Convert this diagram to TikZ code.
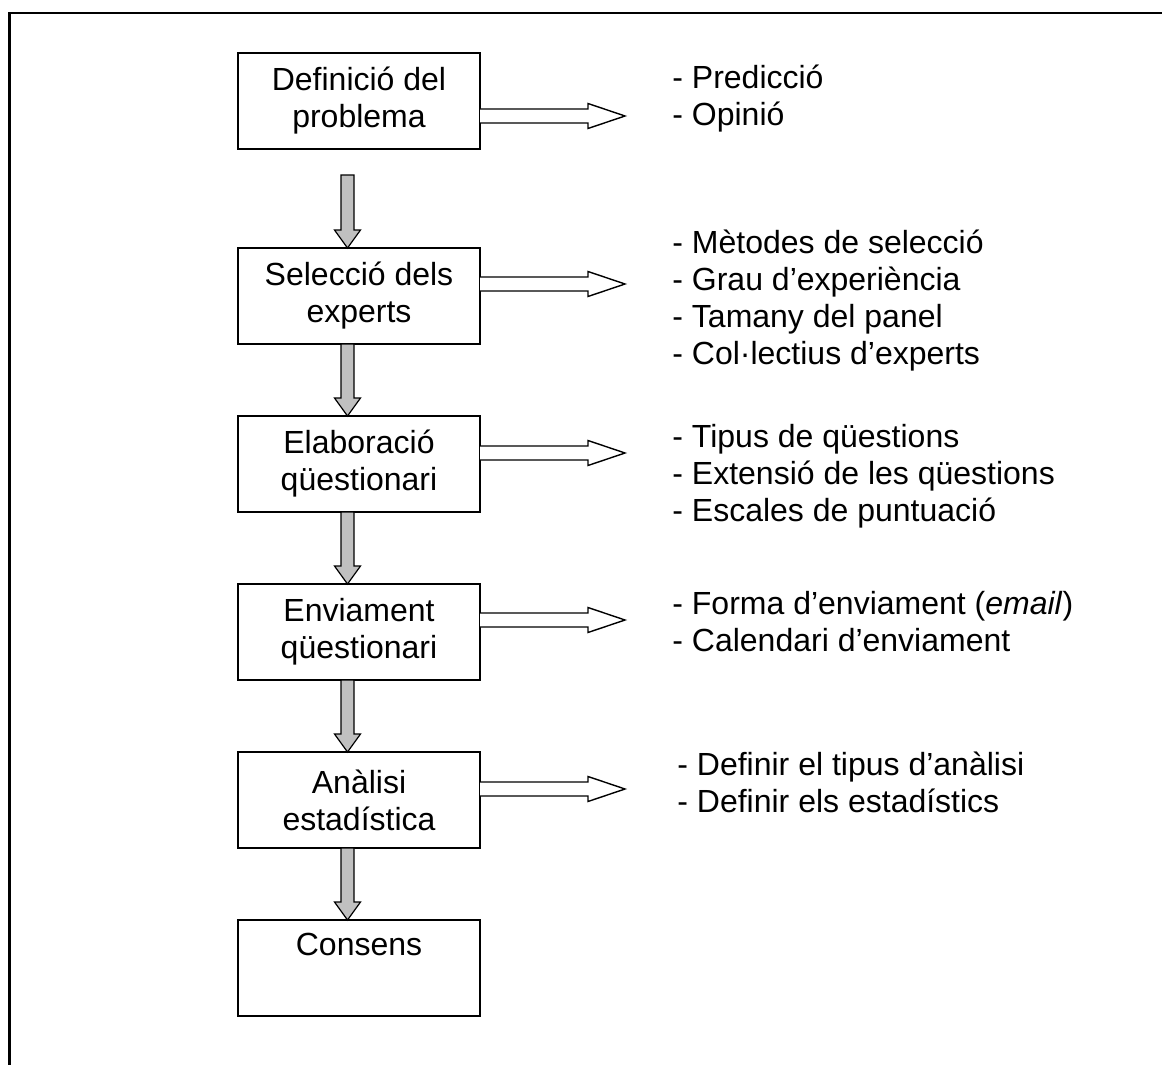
\documentclass[tikz,border=0pt]{standalone}
\usepackage{fontspec}
\setmainfont{Liberation Sans}
\usepackage{xcolor}
\usetikzlibrary{positioning, calc}
\definecolor{arrowgray}{RGB}{192,192,192}
\tikzset{
    stepbox/.style={rectangle, draw=black, line width=0.7pt, fill=white,
                    minimum width=121pt, minimum height=48pt, inner sep=0pt, outer sep=0pt,
                    align=center, font=\fontsize{16pt}{18.5pt}\selectfont,
                    execute at begin node={\rule{0pt}{15pt}}},
    itemlist/.style={inner sep=0pt, align=left, font=\fontsize{16pt}{18.5pt}\selectfont},
    flowarrow/.style={draw=black, line width=0.6pt, fill=arrowgray, line join=miter},
    outarrow/.style={draw=black, line width=0.7pt, fill=white, line join=miter},
    frameline/.style={line width=1.2pt, draw=black},
}
% grey block arrow going down from one step to the next
\newcommand{\downflow}[3][0]{%
    \draw[flowarrow] let \p1=($(#2.south)+(-11.5,#1)$), \p2=($(#3.north)+(-11.5,0)$) in
        (\x1-3.25pt,\y1) -- (\x1-3.25pt,\y2+9pt) -- (\x1-6.5pt,\y2+9pt) -- (\x2,\y2)
        -- (\x1+6.5pt,\y2+9pt) -- (\x1+3.25pt,\y2+9pt) -- (\x1+3.25pt,\y1) -- cycle;}
% hollow arrow going right out of a step
\newcommand{\sideflow}[2]{%
    \draw[outarrow] let \p1=($(#1.east)+(0,#2)$), \p2=($(#1.east)+(145,#2)$) in
        (\x1,\y1+3.5pt) -- (\x2-18.5pt,\y1+3.5pt) -- (\x2-18.5pt,\y1+6.25pt) -- (\x2,\y1)
        -- (\x2-18.5pt,\y1-6.25pt) -- (\x2-18.5pt,\y1-3.5pt) -- (\x1,\y1-3.5pt);}

\begin{document}
\begin{tikzpicture}[x=0.5pt, y=-0.5pt]
    \useasboundingbox (0,0) rectangle (1162,1065);
    % Frame
    \draw[frameline] (9.5,1065) -- (9.5,13) -- (1162,13);

    % Steps
    \node[stepbox] (def) at (359,101) {Definició del\\problema};
    \node[stepbox, below=49.5pt of def] (sel) {Selecció dels\\experts};
    \node[stepbox, below=36pt of sel] (ela) {Elaboració\\qüestionari};
    \node[stepbox, below=36pt of ela] (env) {Enviament\\qüestionari};
    \node[stepbox, below=36pt of env] (ana) {Anàlisi\\estadística};
    \node[stepbox, below=36pt of ana] (con) {Consens\\\strut};

    % Details of each step
    \node[itemlist, right=96pt of def, yshift=1pt] (defl) {- Predicció\\- Opinió};
    \node[itemlist, right=96pt of sel, yshift=-2.5pt] (sell) {- Mètodes de selecció\\- Grau d’experiència\\- Tamany del panel\\- Col·lectius d’experts};
    \node[itemlist, right=96pt of ela, yshift=-6pt] (elal) {- Tipus de qüestions\\- Extensió de les qüestions\\- Escales de puntuació};
    \node[itemlist, right=96pt of env, yshift=5pt] (envl) {- Forma d’enviament (\textit{email})\\- Calendari d’enviament};
    \node[itemlist, right=98.5pt of ana, yshift=9pt] (anal) {- Definir el tipus d’anàlisi\\- Definir els estadístics};

    % Arrows
    \downflow[26]{def}{sel}
    \downflow{sel}{ela}
    \downflow{ela}{env}
    \downflow{env}{ana}
    \downflow{ana}{con}
    \sideflow{def}{15}
    \sideflow{sel}{-12}
    \sideflow{ela}{-11}
    \sideflow{env}{-12}
    \sideflow{ana}{-11}
\end{tikzpicture}
\end{document}
